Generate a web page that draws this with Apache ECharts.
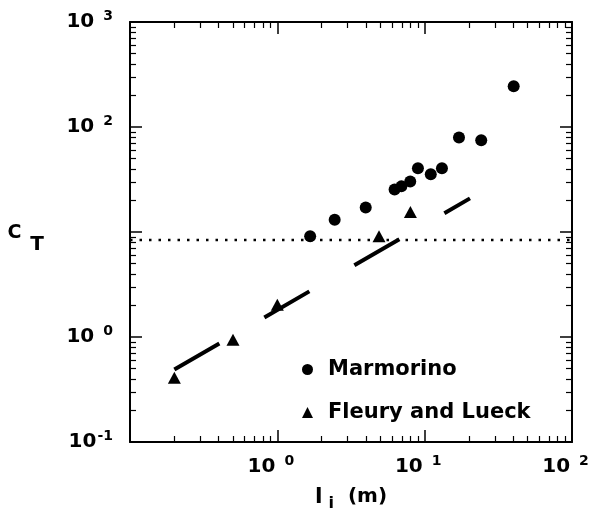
<!DOCTYPE html>
<html>
<head>
<meta charset="utf-8">
<script src="https://cdn.jsdelivr.net/npm/echarts@6/dist/echarts.min.js"></script>
<style>
  html, body { margin: 0; padding: 0; background: #fff; }
  #main { width: 591px; height: 519px; }
</style>
</head>
<body>
<div id="main"></div>
<script>
// Marmorino points
var marmX = [1.67, 2.45, 3.98, 6.25, 6.95, 7.98, 9.0, 11.0, 13.1, 17.1, 24.2, 40.2];
var marmY = [9.1, 13.1, 17.1, 25.4, 27.2, 30.2, 40.4, 35.5, 40.4, 79.3, 74.6, 244];
// Fleury and Lueck points
var fleuryX = [0.2, 0.5, 1.0, 4.9, 8.0];
var fleuryY = [0.41, 0.94, 2.03, 9.1, 15.5];
// dashed fit line ends
var fitX = [0.2, 20.3];
var fitY = [0.49, 20.9];
// dotted horizontal level
var levelX = [0.1, 100];
var levelY = [8.4, 8.4];
// minor tick positions
var minorX = [0.2, 0.3, 0.4, 0.5, 0.6, 0.7, 0.8, 0.9, 2, 3, 4, 5, 6, 7, 8, 9, 20, 30, 40, 50, 60, 70, 80, 90];
var minorY = minorX.concat([200, 300, 400, 500, 600, 700, 800, 900]);
// decade labels left out in the original
var skipX = [0.1];
var skipY = [10];

var myChart = echarts.init(document.getElementById('main'));

function zip(xs, ys) {
  return xs.map(function (x, i) { return [x, ys[i]]; });
}

var FONT = 'DejaVu Sans';

function expOf(v) {
  return Math.round(Math.log10(v));
}

function skipped(v, list) {
  return list.some(function (s) { return expOf(s) === expOf(v); });
}

function powText(v) {
  var e = expOf(v);
  return '{b|10}{' + (e < 0 ? 'n' : 's') + '|' + e + '}';
}

var labelRich = {
  b: { fontFamily: FONT, fontWeight: 'bold', fontSize: 20, color: '#000' },
  s: { fontFamily: FONT, fontWeight: 'bold', fontSize: 14, color: '#000', padding: [0, 0, 12, 9] },
  n: { fontFamily: FONT, fontWeight: 'bold', fontSize: 14, color: '#000', padding: [0, 0, 12, 1] },
  g: { width: 13 }
};

function mainAxis(pos, withLabels, minV, maxV) {
  return {
    type: 'log', logBase: 10, min: minV, max: maxV, position: pos,
    axisLine: { show: true, onZero: false, lineStyle: { color: '#000', width: 2 } },
    axisTick: { show: true, inside: true, length: 12, lineStyle: { color: '#000', width: 1.5 } },
    axisLabel: withLabels ? { show: true, margin: 17, rich: labelRich } : { show: false },
    splitLine: { show: false },
    minorTick: { show: false }
  };
}

function minorAxis(pos, vals, minV, maxV) {
  return {
    type: 'log', logBase: 10, min: minV, max: maxV, position: pos,
    axisLine: { show: false },
    axisTick: { show: true, inside: true, length: 6, customValues: vals, lineStyle: { color: '#000', width: 1.2 } },
    axisLabel: { show: false },
    splitLine: { show: false }
  };
}

var xMain = mainAxis('bottom', true, 0.1, 100);
xMain.axisLabel.formatter = function (v) {
  if (skipped(v, skipX)) return '';
  return powText(v) + '{g|}';
};
xMain.axisLabel.margin = 12;
xMain.name = '{l|l}{i|i}{m|  (m)}';
xMain.nameLocation = 'middle';
xMain.nameGap = 40;
xMain.nameTextStyle = {
  rich: {
    l: { fontFamily: FONT, fontWeight: 'bold', fontSize: 22, color: '#000' },
    i: { fontFamily: FONT, fontWeight: 'bold', fontSize: 16, color: '#000', padding: [14, 0, 0, 6] },
    m: { fontFamily: FONT, fontWeight: 'bold', fontSize: 20, color: '#000' }
  }
};

var yMain = mainAxis('left', true, 0.1, 1000);
yMain.axisLabel.formatter = function (v) {
  if (skipped(v, skipY)) return '';
  return powText(v);
};
yMain.name = '{c|C}{t|T}';
yMain.nameLocation = 'middle';
yMain.nameRotate = 0;
yMain.nameGap = 86;
yMain.nameTextStyle = {
  align: 'right',
  padding: [12, 0, 0, 0],
  rich: {
    c: { fontFamily: FONT, fontWeight: 'bold', fontSize: 19, color: '#000', padding: [0, 0, 10, 0] },
    t: { fontFamily: FONT, fontWeight: 'bold', fontSize: 20, color: '#000', padding: [14, 0, 0, 9] }
  }
};

var option = {
  backgroundColor: '#fff',
  animation: false,
  grid: { left: 130, right: 19, top: 22, bottom: 77, containLabel: false, outerBoundsMode: 'none' },
  legend: {
    orient: 'vertical', left: 297, top: 354, itemGap: 22,
    itemWidth: 11, itemHeight: 11,
    textStyle: { fontFamily: FONT, fontWeight: 'bold', fontSize: 21, lineHeight: 20, color: '#000', padding: [0, 0, 0, 10] },
    data: [
      { name: 'Marmorino', icon: 'circle' },
      { name: 'Fleury and Lueck', icon: 'triangle' }
    ]
  },
  xAxis: [
    xMain,
    mainAxis('top', false, 0.1, 100),
    minorAxis('bottom', minorX, 0.1, 100),
    minorAxis('top', minorX, 0.1, 100)
  ],
  yAxis: [
    yMain,
    mainAxis('right', false, 0.1, 1000),
    minorAxis('left', minorY, 0.1, 1000),
    minorAxis('right', minorY, 0.1, 1000)
  ],
  series: [
    {
      name: 'level', type: 'line', data: zip(levelX, levelY),
      symbol: 'none', silent: true,
      lineStyle: { color: '#000', width: 2.5, type: [2.5, 7] }
    },
    {
      name: 'fit', type: 'line', data: zip(fitX, fitY),
      symbol: 'none', silent: true,
      lineStyle: { color: '#000', width: 4, type: [52, 52], cap: 'butt' }
    },
    {
      name: 'Marmorino', type: 'scatter', data: zip(marmX, marmY),
      symbol: 'circle', symbolSize: 12,
      itemStyle: { color: '#000', opacity: 1 }
    },
    {
      name: 'Fleury and Lueck', type: 'scatter', data: zip(fleuryX, fleuryY),
      symbol: 'triangle', symbolSize: [13, 12],
      itemStyle: { color: '#000', opacity: 1 }
    }
  ]
};

myChart.setOption(option);
</script>
</body>
</html>
